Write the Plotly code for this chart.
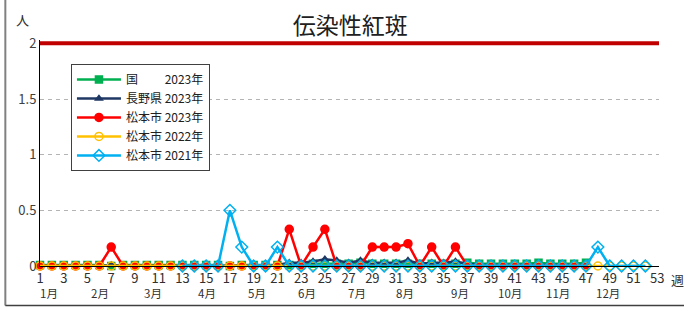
import plotly.graph_objects as go

weeks = list(range(1, 53))
week_labels = [str(w) for w in range(1, 54, 2)]
week_ticks = list(range(1, 54, 2))

# 国 2023 (weeks 1-47)
national_2023 = [0.01, 0.01, 0.01, 0.01, 0.01, 0.01, 0.0, 0.01, 0.01, 0.01,
                 0.01, 0.01, 0.01, 0.01, 0.01, 0.01, 0.0, 0.01, 0.01, 0.01,
                 0.01, 0.01, 0.01, 0.02, 0.02, 0.02, 0.02, 0.03, 0.02, 0.02,
                 0.02, 0.02, 0.02, 0.02, 0.02, 0.02, 0.03, 0.02, 0.02, 0.02,
                 0.02, 0.02, 0.03, 0.02, 0.02, 0.02, 0.03] + [None] * 5
# 長野県 2023
nagano_2023 = [0.0, 0.0, 0.0, 0.0, 0.0, 0.0, 0.01, 0.0, 0.0, 0.0,
               0.0, 0.0, 0.0, 0.0, 0.0, 0.0, 0.0, 0.0, 0.0, 0.0,
               0.01, 0.03, 0.03, 0.04, 0.06, 0.05, 0.03, 0.05, 0.03, 0.03,
               0.03, 0.05, 0.02, 0.03, 0.03, 0.04, 0.02, 0.01, 0.01, 0.01,
               0.01, 0.01, 0.01, 0.01, 0.01, 0.01, 0.01] + [None] * 5
# 松本市 2023
matsumoto_2023 = [0, 0, 0, 0, 0, 0, 0.17, 0, 0, 0,
                  0, 0, 0, 0, 0, 0, 0, 0, 0, 0,
                  0, 0.33, 0, 0.17, 0.33, 0, 0, 0, 0.17, 0.17,
                  0.17, 0.2, 0, 0.17, 0, 0.17, 0, 0, 0, 0,
                  0, 0, 0, 0, 0, 0, 0] + [None] * 5
# 松本市 2022
matsumoto_2022 = [0] * 52
# 松本市 2021 (from week 13)
matsumoto_2021 = [None] * 12 + [0, 0, 0, 0, 0.5, 0.17, 0, 0, 0.17, 0,
                                0, 0, 0, 0, 0, 0, 0, 0, 0, 0,
                                0, 0, 0, 0, 0, 0, 0, 0, 0, 0,
                                0, 0, 0, 0, 0, 0.17, 0, 0, 0, 0]

months = ["1月", "2月", "3月", "4月", "5月", "6月", "7月", "8月", "9月", "10月", "11月", "12月"]
month_pos = [1.75, 6.05, 10.5, 15.1, 19.3, 23.5, 27.7, 31.75, 36.4, 40.6, 44.6, 48.85]

threshold = 2

series = [
    ("国\u3000\u3000 2023年", national_2023, "#00b050", "square", 7),
    ("長野県 2023年", nagano_2023, "#1f3864", "triangle-up", 6),
    ("松本市 2023年", matsumoto_2023, "#ff0000", "circle", 8),
    ("松本市 2022年", matsumoto_2022, "#ffc000", "circle-open", 8),
    ("松本市 2021年", matsumoto_2021, "#00b0f0", "diamond-open", 9),
]

fig = go.Figure()
for name, vals, col, sym, size in series:
    fig.add_trace(go.Scatter(
        x=weeks, y=vals, name=name, mode="lines+markers",
        line=dict(color=col, width=2.5),
        marker=dict(symbol=sym, size=size, color=col, line=dict(width=1.5, color=col)),
        cliponaxis=False, connectgaps=False,
    ))

font_family = "Noto Sans CJK JP, Noto Sans, sans-serif"

fig.update_layout(
    width=684, height=310,
    margin=dict(l=40, r=25, t=40, b=44, autoexpand=False),
    paper_bgcolor="white", plot_bgcolor="white",
    font=dict(family=font_family, size=13, color="#404040"),
    showlegend=True,
    legend=dict(
        x=0.05, y=0.894, xanchor="left", yanchor="top",
        bgcolor="white", bordercolor="#404040", borderwidth=1,
        font=dict(size=12, color="#202020"),
        itemwidth=44, tracegroupgap=0,
    ),
    xaxis=dict(
        range=[1, 53.15], tickmode="array", tickvals=week_ticks, ticktext=week_labels,
        showgrid=False, zeroline=False, showline=True, linecolor="black", linewidth=1,
        ticks="", tickfont=dict(size=13, color="#303030"),
    ),
    yaxis=dict(
        range=[0, 2.03], tickmode="array", tickvals=[0, 0.5, 1, 1.5, 2],
        ticktext=["0", "0.5", "1", "1.5", "2"],
        showgrid=True, gridcolor="#b4b4b4", griddash="4px,4px", gridwidth=1,
        zeroline=False, showline=True, linecolor="black", linewidth=1,
        ticks="", tickfont=dict(size=13, color="#404040"),
    ),
    title=dict(text="伝染性紅斑", x=0.512, xanchor="center", y=0.915, yanchor="middle",
               font=dict(size=23, color="#202020", family=font_family)),
)

# threshold line at y=2
fig.add_shape(type="line", xref="paper", yref="y", x0=0, x1=1.0, y0=threshold, y1=threshold,
              line=dict(color="#c00000", width=4), layer="above")

# frame lines
fig.add_shape(type="line", xref="paper", yref="paper", x0=-0.056, x1=-0.056, y0=-0.175, y1=1.2,
              line=dict(color="#808080", width=2))
fig.add_shape(type="line", xref="paper", yref="paper", x0=-0.056, x1=1.05, y0=-0.175, y1=-0.175,
              line=dict(color="#404040", width=1.5))

for m, p in zip(months, month_pos):
    fig.add_annotation(x=p, y=-0.12, xref="x", yref="paper", text=m, showarrow=False,
                       font=dict(size=11.5, color="#303030"), yanchor="middle")

fig.add_annotation(x=1.0, y=-0.06, xref="paper", yref="paper", text="週", showarrow=False,
                   xanchor="left", xshift=10, font=dict(size=13, color="#303030"), yanchor="middle")
fig.add_annotation(x=0, y=1.04, xref="paper", yref="paper", text="人", showarrow=False,
                   xanchor="center", xshift=-18, font=dict(size=13, color="#303030"), yanchor="bottom")

fig.write_html("out.html", config={"displayModeBar": False},
               post_script="document.body.style.margin='0';")
